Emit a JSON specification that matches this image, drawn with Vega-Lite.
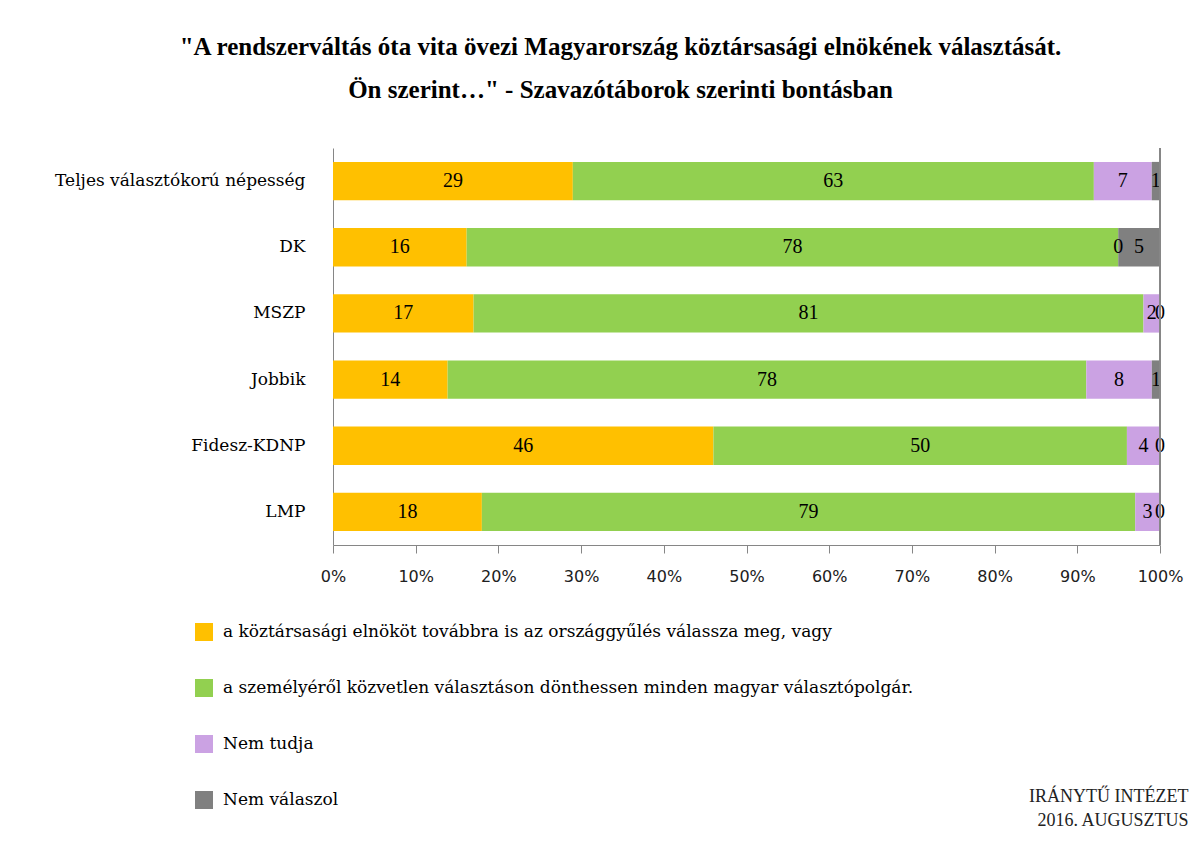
{
  "$schema": "https://vega.github.io/schema/vega-lite/v6.json",
  "width": 827,
  "height": 397,
  "autosize": {"type": "none"},
  "padding": {"left": 333, "top": 148, "right": 43, "bottom": 298},
  "background": "white",
  "config": {"view": {"stroke": null}},
  "title": {
    "text": ["\"A rendszerváltás óta vita övezi Magyarország köztársasági elnökének választását.", "Ön szerint…\" - Szavazótáborok szerinti bontásban"],
    "frame": "group",
    "anchor": "middle",
    "dx": -126,
    "offset": 45,
    "font": "Liberation Serif",
    "fontSize": 25,
    "fontWeight": "bold",
    "color": "#000000",
    "lineHeight": 43
  },
  "data": {
    "values": [
      {"cat": "Teljes választókorú népesség", "s": "a köztársasági elnököt továbbra is az országgyűlés válassza meg, vagy", "o": 1, "v": 29},
      {"cat": "Teljes választókorú népesség", "s": "a személyéről közvetlen választáson dönthessen minden magyar választópolgár.", "o": 2, "v": 63},
      {"cat": "Teljes választókorú népesség", "s": "Nem tudja", "o": 3, "v": 7},
      {"cat": "Teljes választókorú népesség", "s": "Nem válaszol", "o": 4, "v": 1},
      {"cat": "DK", "s": "a köztársasági elnököt továbbra is az országgyűlés válassza meg, vagy", "o": 1, "v": 16},
      {"cat": "DK", "s": "a személyéről közvetlen választáson dönthessen minden magyar választópolgár.", "o": 2, "v": 78},
      {"cat": "DK", "s": "Nem tudja", "o": 3, "v": 0},
      {"cat": "DK", "s": "Nem válaszol", "o": 4, "v": 5},
      {"cat": "MSZP", "s": "a köztársasági elnököt továbbra is az országgyűlés válassza meg, vagy", "o": 1, "v": 17},
      {"cat": "MSZP", "s": "a személyéről közvetlen választáson dönthessen minden magyar választópolgár.", "o": 2, "v": 81},
      {"cat": "MSZP", "s": "Nem tudja", "o": 3, "v": 2},
      {"cat": "MSZP", "s": "Nem válaszol", "o": 4, "v": 0},
      {"cat": "Jobbik", "s": "a köztársasági elnököt továbbra is az országgyűlés válassza meg, vagy", "o": 1, "v": 14},
      {"cat": "Jobbik", "s": "a személyéről közvetlen választáson dönthessen minden magyar választópolgár.", "o": 2, "v": 78},
      {"cat": "Jobbik", "s": "Nem tudja", "o": 3, "v": 8},
      {"cat": "Jobbik", "s": "Nem válaszol", "o": 4, "v": 1},
      {"cat": "Fidesz-KDNP", "s": "a köztársasági elnököt továbbra is az országgyűlés válassza meg, vagy", "o": 1, "v": 46},
      {"cat": "Fidesz-KDNP", "s": "a személyéről közvetlen választáson dönthessen minden magyar választópolgár.", "o": 2, "v": 50},
      {"cat": "Fidesz-KDNP", "s": "Nem tudja", "o": 3, "v": 4},
      {"cat": "Fidesz-KDNP", "s": "Nem válaszol", "o": 4, "v": 0},
      {"cat": "LMP", "s": "a köztársasági elnököt továbbra is az országgyűlés válassza meg, vagy", "o": 1, "v": 18},
      {"cat": "LMP", "s": "a személyéről közvetlen választáson dönthessen minden magyar választópolgár.", "o": 2, "v": 79},
      {"cat": "LMP", "s": "Nem tudja", "o": 3, "v": 3},
      {"cat": "LMP", "s": "Nem válaszol", "o": 4, "v": 0}
    ]
  },
  "layer": [
    {
      "mark": {"type": "bar"},
      "encoding": {
        "y": {
          "field": "cat",
          "type": "nominal",
          "sort": ["Teljes választókorú népesség", "DK", "MSZP", "Jobbik", "Fidesz-KDNP", "LMP"],
          "scale": {"paddingInner": 0.42, "paddingOuter": 0.21},
          "axis": {
            "title": null,
            "ticks": false,
            "domain": true,
            "domainColor": "#868686",
            "labelFont": "DejaVu Serif",
            "labelFontSize": 17,
            "labelColor": "#000000",
            "labelPadding": 28,
            "labelLimit": 400
          }
        },
        "x": {
          "field": "v",
          "type": "quantitative",
          "stack": "normalize",
          "scale": {"domain": [0, 1]},
          "axis": {
            "format": ".0%",
            "values": [0, 0.1, 0.2, 0.3, 0.4, 0.5, 0.6, 0.7, 0.8, 0.9, 1],
            "grid": false,
            "domainColor": "#868686",
            "tickColor": "#868686",
            "tickSize": 8,
            "labelFont": "DejaVu Sans",
            "labelFontSize": 16,
            "labelColor": "#202020",
            "labelPadding": 15,
            "labelFlush": false,
            "title": ["IRÁNYTŰ INTÉZET", "2016. AUGUSZTUS"],
            "titleFont": "Liberation Serif",
            "titleFontSize": 18,
            "titleFontWeight": "normal",
            "titleColor": "#222222",
            "titleAlign": "right",
            "titleAnchor": "end",
            "titleBaseline": "top",
            "titleX": 855,
            "titleY": 242,
            "titleLineHeight": 24
          }
        },
        "color": {
          "field": "s",
          "type": "nominal",
          "scale": {
            "domain": ["a köztársasági elnököt továbbra is az országgyűlés válassza meg, vagy", "a személyéről közvetlen választáson dönthessen minden magyar választópolgár.", "Nem tudja", "Nem válaszol"],
            "range": ["#FFC000", "#92D050", "#CBA2E3", "#808080"]
          },
          "legend": {
            "title": null,
            "orient": "none",
            "direction": "vertical",
            "legendX": -138,
            "legendY": 475,
            "symbolType": "square",
            "symbolSize": 324,
            "symbolStrokeWidth": 0,
            "symbolOpacity": 1,
            "labelFont": "DejaVu Serif",
            "labelFontSize": 17,
            "labelColor": "#000000",
            "labelLimit": 1000,
            "labelOffset": 10,
            "rowPadding": 38
          }
        },
        "order": {"field": "o", "type": "quantitative"}
      }
    },
    {
      "mark": {"type": "text", "font": "Liberation Serif", "fontSize": 20, "color": "#000000", "baseline": "middle"},
      "encoding": {
        "y": {"field": "cat", "type": "nominal", "sort": ["Teljes választókorú népesség", "DK", "MSZP", "Jobbik", "Fidesz-KDNP", "LMP"]},
        "x": {"field": "v", "type": "quantitative", "stack": "normalize", "bandPosition": 0.5},
        "detail": {"field": "s", "type": "nominal"},
        "order": {"field": "o", "type": "quantitative"},
        "text": {"field": "v", "type": "quantitative"}
      }
    },
    {
      "mark": {"type": "rule", "color": "#868686", "strokeWidth": 1},
      "encoding": {"x": {"datum": 1, "type": "quantitative"}}
    }
  ]
}
